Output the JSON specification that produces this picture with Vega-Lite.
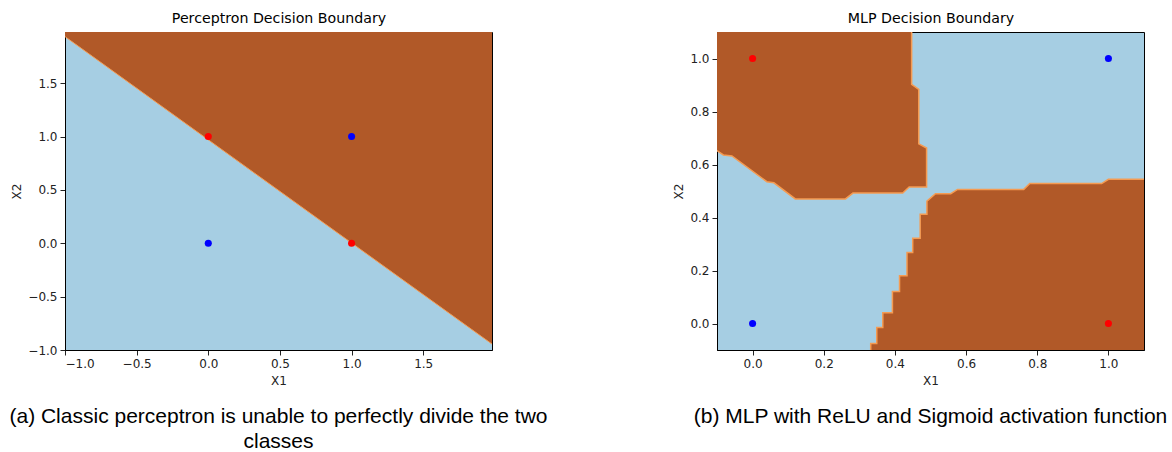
{
  "$schema": "https://vega.github.io/schema/vega-lite/v6.json",
  "padding": {"left": 8, "top": 10, "right": 0, "bottom": 0},
  "bounds": "flush",
  "spacing": 225,
  "datasets": {
    "perc": [
      {"i": 0, "x1": -1.05, "x2": 1.985},
      {"i": 1, "x1": 2.05, "x2": -1.012},
      {"i": 2, "x1": 2.05, "x2": 2.05},
      {"i": 3, "x1": -1.05, "x2": 2.05}
    ],
    "mlp": [
      {"region": "A", "i": 0, "x1": -0.15, "x2": 1.15},
      {"region": "A", "i": 1, "x1": 0.447, "x2": 1.15},
      {"region": "A", "i": 2, "x1": 0.447, "x2": 0.902},
      {"region": "A", "i": 3, "x1": 0.467, "x2": 0.883},
      {"region": "A", "i": 4, "x1": 0.467, "x2": 0.678},
      {"region": "A", "i": 5, "x1": 0.489, "x2": 0.662},
      {"region": "A", "i": 6, "x1": 0.489, "x2": 0.515},
      {"region": "A", "i": 7, "x1": 0.44, "x2": 0.515},
      {"region": "A", "i": 8, "x1": 0.422, "x2": 0.492},
      {"region": "A", "i": 9, "x1": 0.282, "x2": 0.492},
      {"region": "A", "i": 10, "x1": 0.261, "x2": 0.47},
      {"region": "A", "i": 11, "x1": 0.12, "x2": 0.47},
      {"region": "A", "i": 12, "x1": 0.06, "x2": 0.531},
      {"region": "A", "i": 13, "x1": 0.04, "x2": 0.535},
      {"region": "A", "i": 14, "x1": -0.058, "x2": 0.632},
      {"region": "A", "i": 15, "x1": -0.082, "x2": 0.636},
      {"region": "A", "i": 16, "x1": -0.1, "x2": 0.652},
      {"region": "A", "i": 17, "x1": -0.15, "x2": 0.66},
      {"region": "B", "i": 0, "x1": 0.332, "x2": -0.15},
      {"region": "B", "i": 1, "x1": 0.332, "x2": -0.075},
      {"region": "B", "i": 2, "x1": 0.349, "x2": -0.075},
      {"region": "B", "i": 3, "x1": 0.349, "x2": -0.015},
      {"region": "B", "i": 4, "x1": 0.366, "x2": -0.015},
      {"region": "B", "i": 5, "x1": 0.366, "x2": 0.041},
      {"region": "B", "i": 6, "x1": 0.393, "x2": 0.041},
      {"region": "B", "i": 7, "x1": 0.393, "x2": 0.121},
      {"region": "B", "i": 8, "x1": 0.413, "x2": 0.121},
      {"region": "B", "i": 9, "x1": 0.413, "x2": 0.18},
      {"region": "B", "i": 10, "x1": 0.434, "x2": 0.18},
      {"region": "B", "i": 11, "x1": 0.434, "x2": 0.268},
      {"region": "B", "i": 12, "x1": 0.45, "x2": 0.268},
      {"region": "B", "i": 13, "x1": 0.45, "x2": 0.322},
      {"region": "B", "i": 14, "x1": 0.471, "x2": 0.322},
      {"region": "B", "i": 15, "x1": 0.471, "x2": 0.412},
      {"region": "B", "i": 16, "x1": 0.49, "x2": 0.412},
      {"region": "B", "i": 17, "x1": 0.49, "x2": 0.462},
      {"region": "B", "i": 18, "x1": 0.514, "x2": 0.49},
      {"region": "B", "i": 19, "x1": 0.557, "x2": 0.49},
      {"region": "B", "i": 20, "x1": 0.576, "x2": 0.506},
      {"region": "B", "i": 21, "x1": 0.762, "x2": 0.506},
      {"region": "B", "i": 22, "x1": 0.779, "x2": 0.528},
      {"region": "B", "i": 23, "x1": 0.981, "x2": 0.528},
      {"region": "B", "i": 24, "x1": 1.0, "x2": 0.544},
      {"region": "B", "i": 25, "x1": 1.15, "x2": 0.544},
      {"region": "B", "i": 26, "x1": 1.15, "x2": -0.15}
    ],
    "xor": [
      {"x1": 0, "x2": 0, "cls": "0"},
      {"x1": 0, "x2": 1, "cls": "1"},
      {"x1": 1, "x2": 0, "cls": "1"},
      {"x1": 1, "x2": 1, "cls": "0"}
    ]
  },
  "hconcat": [
    {
      "width": 427,
      "height": 318,
      "title": {
        "text": ["(a) Classic perceptron is unable to perfectly divide the two", "classes"],
        "orient": "bottom", "anchor": "middle", "font": "Liberation Sans", "fontSize": 21,
        "fontWeight": "normal", "color": "#000", "offset": 20, "lineHeight": 25
      },
      "resolve": {"axis": {"x": "independent"}},
      "layer": [
        {
          "data": {"name": "perc"},
          "mark": {"type": "line", "filled": true, "clip": true, "stroke": "#f59b52", "strokeWidth": 1},
          "encoding": {
            "x": {"field": "x1", "type": "quantitative", "scale": {"domain": [-1, 1.98], "nice": false, "zero": false},
                  "axis": {"title": "X1", "values": [-1, -0.5, 0, 0.5, 1, 1.5], "format": ".1f"}},
            "y": {"field": "x2", "type": "quantitative", "scale": {"domain": [-1, 1.98], "nice": false, "zero": false},
                  "axis": {"title": "X2", "values": [-1, -0.5, 0, 0.5, 1, 1.5], "format": ".1f"}},
            "order": {"field": "i", "type": "quantitative"},
            "color": {"value": "#b15928"}
          }
        },
        {
          "data": {"name": "xor"},
          "mark": {"type": "circle", "size": 50, "opacity": 1},
          "encoding": {
            "x": {"field": "x1", "type": "quantitative", "scale": {"domain": [-1, 1.98], "nice": false, "zero": false},
                  "axis": {"orient": "top", "title": "Perceptron Decision Boundary", "labels": false, "ticks": false, "domain": false, "titleFontSize": 14.2, "titleColor": "#000", "titlePadding": 7}},
            "y": {"field": "x2", "type": "quantitative", "scale": {"domain": [-1, 1.98], "nice": false, "zero": false},
                  "axis": {"title": "X2", "values": [-1, -0.5, 0, 0.5, 1, 1.5], "format": ".1f"}},
            "color": {"field": "cls", "type": "nominal", "scale": {"domain": ["0", "1"], "range": ["#0000ff", "#ff0000"]}, "legend": null}
          }
        }
      ]
    },
    {
      "width": 427,
      "height": 318,
      "title": {
        "text": "(b) MLP with ReLU and Sigmoid activation function",
        "orient": "bottom", "anchor": "middle", "font": "Liberation Sans", "fontSize": 21,
        "fontWeight": "normal", "color": "#000", "offset": 20, "lineHeight": 25
      },
      "resolve": {"axis": {"x": "independent"}},
      "layer": [
        {
          "data": {"name": "mlp"},
          "mark": {"type": "line", "filled": true, "clip": true, "stroke": "#f59b52", "strokeWidth": 1.5},
          "encoding": {
            "x": {"field": "x1", "type": "quantitative", "scale": {"domain": [-0.1, 1.1], "nice": false, "zero": false},
                  "axis": {"title": "X1", "values": [0, 0.2, 0.4, 0.6, 0.8, 1.0], "format": ".1f"}},
            "y": {"field": "x2", "type": "quantitative", "scale": {"domain": [-0.1, 1.1], "nice": false, "zero": false},
                  "axis": {"title": "X2", "values": [0, 0.2, 0.4, 0.6, 0.8, 1.0], "format": ".1f"}},
            "order": {"field": "i", "type": "quantitative"},
            "detail": {"field": "region", "type": "nominal"},
            "color": {"value": "#b15928"}
          }
        },
        {
          "data": {"name": "xor"},
          "mark": {"type": "circle", "size": 50, "opacity": 1},
          "encoding": {
            "x": {"field": "x1", "type": "quantitative", "scale": {"domain": [-0.1, 1.1], "nice": false, "zero": false},
                  "axis": {"orient": "top", "title": "MLP Decision Boundary", "labels": false, "ticks": false, "domain": false, "titleFontSize": 14.2, "titleColor": "#000", "titlePadding": 7}},
            "y": {"field": "x2", "type": "quantitative", "scale": {"domain": [-0.1, 1.1], "nice": false, "zero": false},
                  "axis": {"title": "X2", "values": [0, 0.2, 0.4, 0.6, 0.8, 1.0], "format": ".1f"}},
            "color": {"field": "cls", "type": "nominal", "scale": {"domain": ["0", "1"], "range": ["#0000ff", "#ff0000"]}, "legend": null}
          }
        }
      ]
    }
  ],
  "config": {
    "view": {"fill": "#a6cee3", "stroke": "#000", "strokeWidth": 1},
    "axis": {
      "grid": false,
      "labelFont": "DejaVu Sans", "labelFontSize": 12, "labelColor": "#222",
      "tickColor": "#222", "tickSize": 5, "tickWidth": 1, "domainColor": "#000",
      "labelPadding": 3,
      "titleFont": "DejaVu Sans", "titleFontSize": 12, "titleFontWeight": "normal", "titleColor": "#222", "titlePadding": 6
    },
    "axisY": {"titlePadding": 4.5}
  }
}
